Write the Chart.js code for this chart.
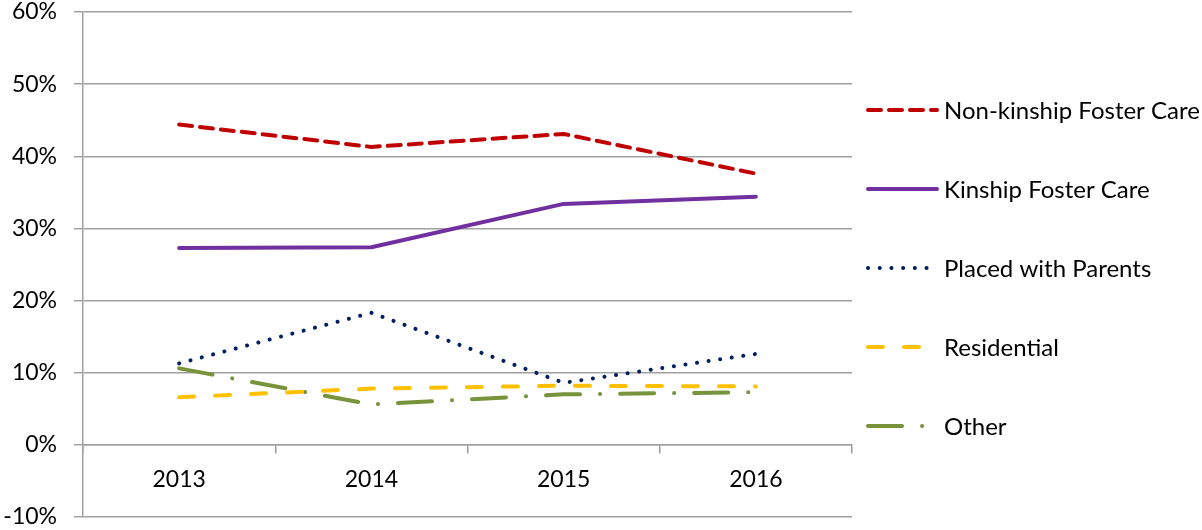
<!DOCTYPE html>
<html lang="en">
<head>
    <meta charset="UTF-8">
    <title>Placement Types</title>
    <script src="https://cdn.jsdelivr.net/npm/chart.js"></script>
    <style>
        body { margin: 0; background: #fff; }
    </style>
</head>
<body>
    <canvas id="placementChart" width="1202" height="530"></canvas>

    <script>
        var years = ['2013', '2014', '2015', '2016'];
        var nonKinship = [44.4, 41.3, 43.1, 37.6];
        var kinship = [27.3, 27.4, 33.4, 34.4];
        var withParents = [11.3, 18.3, 8.6, 12.6];
        var residential = [6.6, 7.8, 8.2, 8.1];
        var other = [10.6, 5.6, 7.0, 7.3];

        Chart.defaults.font.family = 'Lato';
        Chart.defaults.font.size = 23;
        Chart.defaults.color = '#000';

        function serie(label, data, color, dash) {
            return {
                label: label,
                data: data,
                borderColor: color,
                backgroundColor: color,
                borderWidth: 4,
                borderDash: dash,
                borderCapStyle: 'round',
                borderJoinStyle: 'round',
                pointRadius: 0,
                tension: 0,
                fill: false
            };
        }

        // legenda desenhada à mão, à direita do gráfico
        var legendaDireita = {
            id: 'legendaDireita',
            afterDraw: function (chart) {
                var ctx = chart.ctx;
                var x0 = 866, comp = 71, xTexto = 944;
                var y0 = 110, passo = 79;
                ctx.save();
                chart.data.datasets.forEach(function (ds, i) {
                    var y = y0 + i * passo;
                    ctx.save();
                    ctx.beginPath();
                    ctx.rect(x0 - 3, y - 5, comp + 6, 10);
                    ctx.clip();
                    ctx.beginPath();
                    ctx.strokeStyle = ds.borderColor;
                    ctx.lineWidth = ds.borderWidth;
                    ctx.lineCap = 'round';
                    ctx.setLineDash(ds.borderDash || []);
                    ctx.moveTo(x0 + 2, y);
                    ctx.lineTo(x0 + comp, y);
                    ctx.stroke();
                    ctx.restore();
                    ctx.fillStyle = '#000';
                    ctx.font = '24px Lato';
                    ctx.textBaseline = 'middle';
                    ctx.textAlign = 'left';
                    ctx.fillText(ds.label, xTexto, y + 1);
                });
                ctx.restore();
            }
        };

        var ctx = document.getElementById('placementChart').getContext('2d');
        var placementChart = new Chart(ctx, {
            type: 'line',
            data: {
                labels: years,
                datasets: [
                    serie('Non-kinship Foster Care', nonKinship, '#C00000', [13, 8]),
                    serie('Kinship Foster Care', kinship, '#7030A0', []),
                    serie('Placed with Parents', withParents, '#002060', [0.1, 11.6]),
                    serie('Residential', residential, '#FFC000', [15, 21]),
                    serie('Other', other, '#77933C', [34, 20, 0.1, 20])
                ]
            },
            options: {
                responsive: false,
                animation: false,
                layout: {
                    padding: { left: 0, top: 12, right: 350, bottom: 13 }
                },
                plugins: {
                    legend: { display: false },
                    tooltip: { enabled: false }
                },
                scales: {
                    x: {
                        type: 'category',
                        position: { y: 0 },
                        offset: true,
                        grid: {
                            offset: true,
                            drawOnChartArea: false,
                            drawTicks: true,
                            tickLength: 8,
                            color: '#A0A0A0',
                            lineWidth: 1.5
                        },
                        border: { display: true, color: '#A0A0A0', width: 1.5 },
                        ticks: { padding: 13 }
                    },
                    y: {
                        min: -10,
                        max: 60,
                        ticks: {
                            stepSize: 10,
                            padding: 17,
                            callback: function (v) { return v + '%'; }
                        },
                        grid: {
                            color: '#A0A0A0',
                            lineWidth: 1.5,
                            tickLength: 9
                        },
                        border: { display: true, color: '#A0A0A0', width: 1.5 },
                        afterFit: function (scale) {
                            scale.width = 83;
                            scale.paddingTop = 0;
                            scale.paddingBottom = 0;
                        }
                    }
                }
            },
            plugins: [legendaDireita]
        });
    </script>
</body>
</html>
